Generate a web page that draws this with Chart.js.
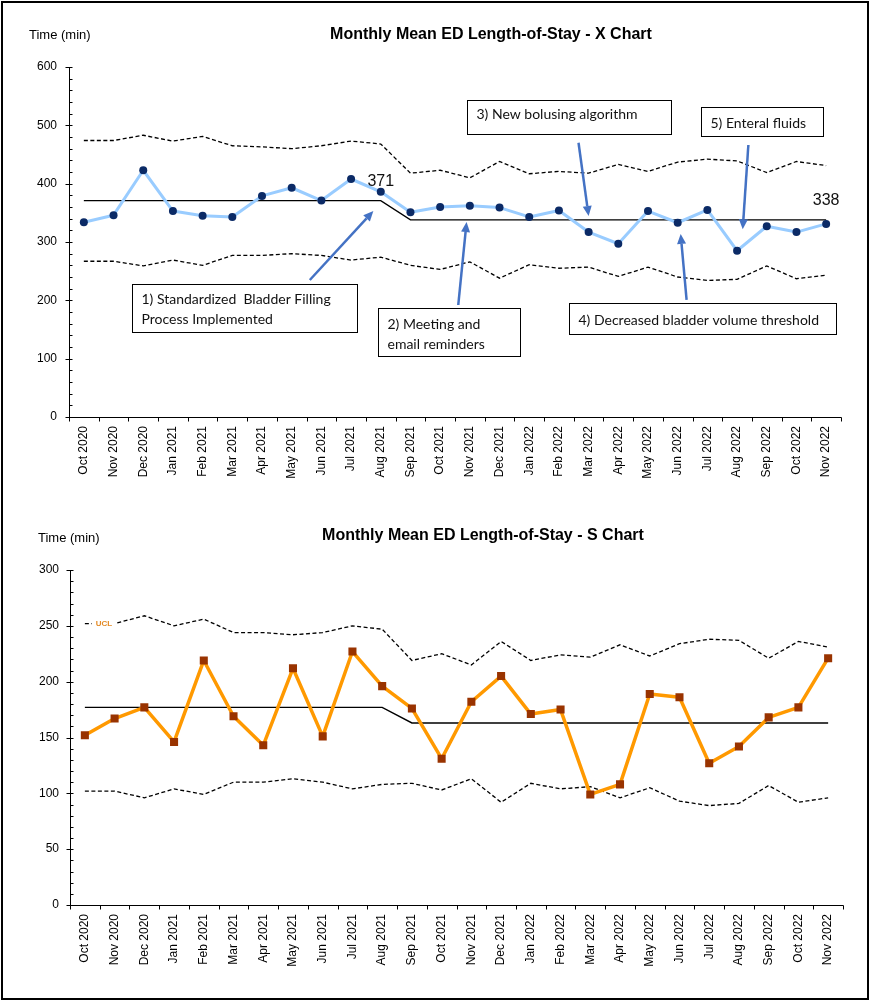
<!DOCTYPE html>
<html>
<head>
<meta charset="utf-8">
<script src="https://cdn.jsdelivr.net/npm/chart.js@4.4.1/dist/chart.umd.min.js"></script>
<style>
html,body{margin:0;padding:0;background:#fff;}
#page{position:relative;width:871px;height:1002px;overflow:hidden;background:#fff;}
.wrap{position:absolute;left:0;width:871px;}
#frame{position:absolute;left:1px;top:1px;width:864px;height:995px;border:2px solid #000;pointer-events:none;}
</style>
</head>
<body>
<div id="page">
  <div class="wrap" style="top:0;height:500px;"><canvas id="c1" width="871" height="500"></canvas></div>
  <div class="wrap" style="top:500px;height:502px;"><canvas id="c2" width="871" height="502"></canvas></div>
  <div id="frame"></div>
</div>
<script>
// ---------------- DATA ----------------
const months = ['Oct 2020','Nov 2020','Dec 2020','Jan 2021','Feb 2021','Mar 2021','Apr 2021','May 2021','Jun 2021','Jul 2021','Aug 2021','Sep 2021','Oct 2021','Nov 2021','Dec 2021','Jan 2022','Feb 2022','Mar 2022','Apr 2022','May 2022','Jun 2022','Jul 2022','Aug 2022','Sep 2022','Oct 2022','Nov 2022'];

// X chart (mean LOS, minutes)
const xMean   = [334,346,423,353,345,343,379,393,371,408,386,351,360,362,359,343,354,317,297,353,333,355,285,327,317,331];
const xCenter = [371,371,371,371,371,371,371,371,371,371,371,338,338,338,338,338,338,338,338,338,338,338,338,338,338,338];
const xUCL    = [474,474,483,473,481,465,463,460,465,473,468,418,423,410,438,417,421,418,433,421,437,442,439,419,438,431];
const xLCL    = [267,267,259,269,260,277,277,280,277,269,274,260,253,266,238,261,255,257,241,257,240,234,236,259,237,243];

// S chart (standard deviation, minutes)
const sMean   = [152,167,177,146,219,169,143,212,151,227,196,176,131,182,205,171,175,99,108,189,186,127,142,168,177,221];
const sCenter = [177,177,177,177,177,177,177,177,177,177,177,163,163,163,163,163,163,163,163,163,163,163,163,163,163,163];
const sUCL    = [252,252,259,250,256,244,244,242,244,250,247,219,225,215,236,219,224,222,233,223,234,238,237,221,236,231];
const sLCL    = [102,102,96,104,99,110,110,113,110,104,108,109,103,113,92,109,104,106,96,105,93,89,91,107,92,96];

// axis ranges
const xAxisMax = 600, xAxisStep = 100;
const sAxisMax = 300, sAxisStep = 50;

// annotations for X chart (positions in category-index / value units)
const xNotes = [
  {lines:['1) Standardized  Bladder Filling','Process Implemented'], box:[1.61,227.5,9.21,145.7], top:19},
  {lines:['2) Meeting and','email reminders'], box:[9.92,186.3,14.69,104.6], top:20},
  {lines:['3) New bolusing algorithm'], box:[12.89,543.9,19.77,485.7], top:18},
  {lines:['4) Decreased bladder volume threshold'], box:[16.33,195.4,25.33,141.8], top:21},
  {lines:['5) Enteral fluids'], box:[20.78,530.9,24.89,482.2], top:20}
];
const xArrows = [
  [7.61,234.9,9.75,353.1],
  [12.61,192.0,12.89,334.3],
  [16.66,470.2,17.00,344.6],
  [20.30,200.6,20.10,313.7],
  [22.38,466.3,22.19,321.8]
];

// ---------------- STYLE ----------------
const FONT = 'Arial, "Liberation Sans", Helvetica, sans-serif';
const NOTE_FONT = 'Lato, "Open Sans", sans-serif';

const axesPlugin = {
  id: 'axesMarks',
  afterDraw(chart) {
    const {ctx, chartArea: a, scales: {x, y}} = chart;
    const yo = chart.options.scales.y;
    const n = chart.data.labels.length;
    ctx.save();
    ctx.strokeStyle = '#000';
    ctx.lineWidth = 1;
    const L = Math.round(a.left) + 0.5, B = Math.round(a.bottom) + 0.5;
    ctx.beginPath();
    ctx.moveTo(L, Math.round(a.top));
    ctx.lineTo(L, B);
    ctx.lineTo(Math.round(a.right) + 0.5, B);
    const step = yo.ticks.stepSize, minor = step / 5;
    for (let k = 0; k * minor <= yo.max + 1e-9; k++) {
      const v = yo.min + k * minor;
      const py = Math.round(y.getPixelForValue(v)) + 0.5;
      const major = k % 5 === 0;
      ctx.moveTo(major ? L - 4 : L, py);
      ctx.lineTo(L + 3, py);
    }
    for (let i = 0; i <= n; i++) {
      const px = Math.round(x.getPixelForValue(i - 0.5)) + 0.5;
      ctx.moveTo(px, B);
      ctx.lineTo(px, B + 4);
    }
    ctx.stroke();
    ctx.restore();
  }
};

function titlePlugin(title, cx, by, ux, uy) {
  return {
    id: 'titles',
    afterDraw(chart) {
      const ctx = chart.ctx;
      ctx.save();
      ctx.fillStyle = '#000';
      ctx.textBaseline = 'alphabetic';
      ctx.font = 'bold 16px ' + FONT;
      ctx.textAlign = 'center';
      ctx.fillText(title, cx, by);
      ctx.font = '13px ' + FONT;
      ctx.textAlign = 'left';
      ctx.fillText('Time (min)', ux, uy);
      ctx.restore();
    }
  };
}

function centerLabelPlugin(center) {
  return {
    id: 'centerLabels',
    afterDatasetsDraw(chart) {
      const {ctx, scales: {x, y}} = chart;
      ctx.save();
      ctx.fillStyle = '#111';
      ctx.font = '16px ' + FONT;
      ctx.textAlign = 'center';
      ctx.textBaseline = 'middle';
      for (let i = 0; i < center.length; i++) {
        if (i === center.length - 1 || center[i] !== center[i + 1]) {
          ctx.fillText(String(center[i]), x.getPixelForValue(i), y.getPixelForValue(center[i]) - 19);
        }
      }
      ctx.restore();
    }
  };
}

const notesPlugin = {
  id: 'notes',
  afterDraw(chart) {
    const {ctx, scales: {x, y}} = chart;
    ctx.save();
    // arrows
    ctx.strokeStyle = '#4472C4';
    ctx.fillStyle = '#4472C4';
    ctx.lineWidth = 2.5;
    for (const [i0, v0, i1, v1] of xArrows) {
      const x0 = x.getPixelForValue(i0), y0 = y.getPixelForValue(v0);
      const x1 = x.getPixelForValue(i1), y1 = y.getPixelForValue(v1);
      const ang = Math.atan2(y1 - y0, x1 - x0);
      const hl = 10, hw = 4.5;
      const bx = x1 - hl * Math.cos(ang), by = y1 - hl * Math.sin(ang);
      ctx.beginPath();
      ctx.moveTo(x0, y0);
      ctx.lineTo(bx, by);
      ctx.stroke();
      ctx.beginPath();
      ctx.moveTo(x1, y1);
      ctx.lineTo(bx + hw * Math.sin(ang), by - hw * Math.cos(ang));
      ctx.lineTo(bx - hw * Math.sin(ang), by + hw * Math.cos(ang));
      ctx.closePath();
      ctx.fill();
    }
    // boxes
    ctx.lineWidth = 1;
    ctx.strokeStyle = '#000';
    ctx.font = '14px ' + NOTE_FONT;
    ctx.textAlign = 'left';
    ctx.textBaseline = 'alphabetic';
    for (const nt of xNotes) {
      const l = Math.round(x.getPixelForValue(nt.box[0])) + 0.5;
      const t = Math.round(y.getPixelForValue(nt.box[1])) + 0.5;
      const r = Math.round(x.getPixelForValue(nt.box[2])) + 0.5;
      const b = Math.round(y.getPixelForValue(nt.box[3])) + 0.5;
      ctx.fillStyle = '#fff';
      ctx.fillRect(l, t, r - l, b - t);
      ctx.strokeRect(l, t, r - l, b - t);
      ctx.fillStyle = '#111';
      nt.lines.forEach((s, k) => ctx.fillText(s, l + 9, t + nt.top + k * 20));
    }
    ctx.restore();
  }
};

const uclLabelPlugin = {
  id: 'uclLabel',
  afterDatasetsDraw(chart) {
    const {ctx, scales: {x, y}} = chart;
    const px = x.getPixelForValue(0.64), py = y.getPixelForValue(sUCL[0]);
    ctx.save();
    ctx.fillStyle = '#fff';
    ctx.fillRect(px - 12, py - 5, 24, 10);
    ctx.fillStyle = '#E38A25';
    ctx.font = 'bold 8px ' + FONT;
    ctx.textAlign = 'center';
    ctx.textBaseline = 'middle';
    ctx.fillText('UCL', px, py + 0.5);
    ctx.restore();
  }
};

function limitDs(data) {
  return {data, borderColor: '#000', borderWidth: 1.3, borderDash: [4, 2.5], pointRadius: 0, tension: 0, fill: false};
}
function centerDs(data) {
  return {data, borderColor: '#000', borderWidth: 1.4, pointRadius: 0, tension: 0, fill: false};
}

function baseOptions(pad, yMax, yStep, yWidth, xHeight, yPad) {
  return {
    responsive: false,
    animation: false,
    devicePixelRatio: 1,
    layout: {padding: pad},
    plugins: {legend: {display: false}, tooltip: {enabled: false}, title: {display: false}},
    scales: {
      x: {
        type: 'category', offset: true,
        grid: {display: false, drawTicks: false},
        border: {display: false},
        ticks: {autoSkip: false, maxRotation: 90, minRotation: 90, padding: 9, color: '#000', font: {family: FONT, size: 12}},
        afterFit(s) { s.height = xHeight; }
      },
      y: {
        min: 0, max: yMax,
        grid: {display: false, drawTicks: false},
        border: {display: false},
        ticks: {stepSize: yStep, padding: yPad, color: '#000', font: {family: FONT, size: 12}},
        afterFit(s) { s.width = yWidth; }
      }
    }
  };
}

// ---------------- X CHART ----------------
new Chart(document.getElementById('c1'), {
  type: 'line',
  data: {
    labels: months,
    datasets: [
      {data: xMean, borderColor: '#99CCFF', borderWidth: 3, pointRadius: 4, pointBackgroundColor: '#0B2A66', pointBorderColor: '#0B2A66', pointBorderWidth: 0, tension: 0, fill: false, borderJoinStyle: 'round'},
      centerDs(xCenter),
      limitDs(xUCL),
      limitDs(xLCL)
    ]
  },
  options: baseOptions({left: 0, right: 30, top: 67, bottom: 0}, xAxisMax, xAxisStep, 69, 83, 12),
  plugins: [axesPlugin, titlePlugin('Monthly Mean ED Length-of-Stay - X Chart', 491, 39, 29, 39), centerLabelPlugin(xCenter), notesPlugin]
});

// ---------------- S CHART ----------------
new Chart(document.getElementById('c2'), {
  type: 'line',
  data: {
    labels: months,
    datasets: [
      {data: sMean, borderColor: '#FF9900', borderWidth: 3.5, pointStyle: 'rect', pointRadius: 5.7, pointBackgroundColor: '#993300', pointBorderColor: '#993300', pointBorderWidth: 0, tension: 0, fill: false, borderJoinStyle: 'round'},
      centerDs(sCenter),
      limitDs(sUCL),
      limitDs(sLCL)
    ]
  },
  options: baseOptions({left: 0, right: 28, top: 70, bottom: 0}, sAxisMax, sAxisStep, 70, 97, 11),
  plugins: [axesPlugin, titlePlugin('Monthly Mean ED Length-of-Stay - S Chart', 483, 40, 38, 42), uclLabelPlugin]
});
</script>
</body>
</html>
